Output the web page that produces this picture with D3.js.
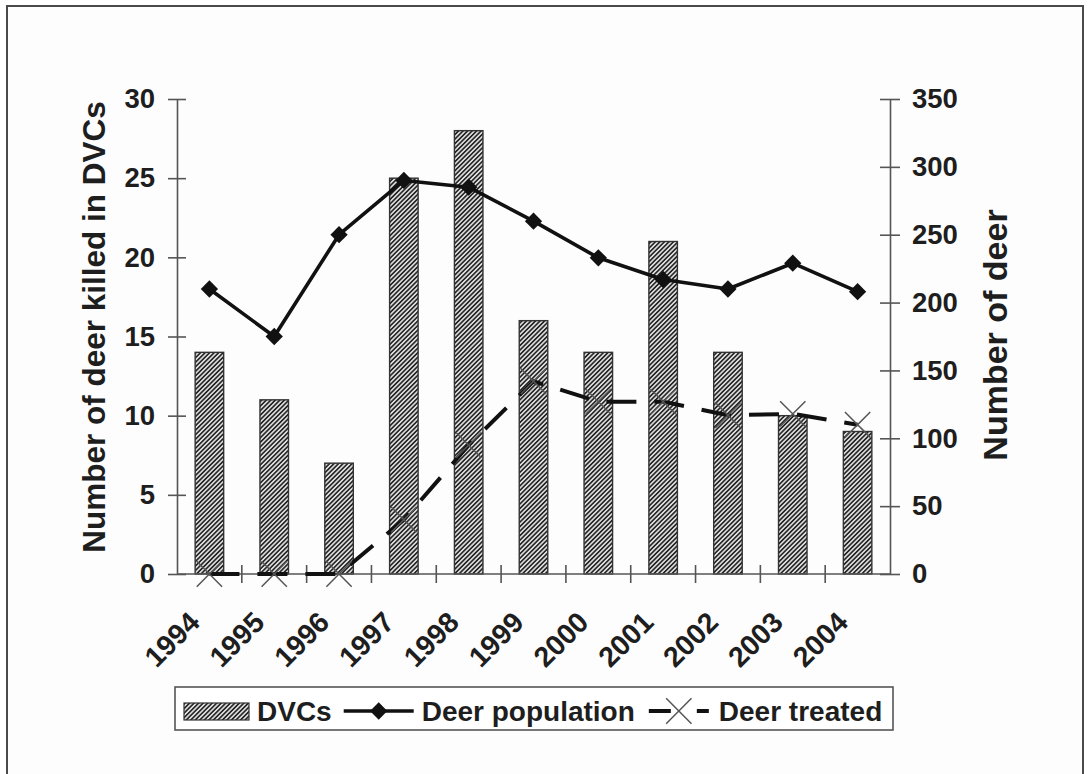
<!DOCTYPE html>
<html>
<head>
<meta charset="utf-8">
<script src="https://cdn.jsdelivr.net/npm/d3@7/dist/d3.min.js"></script>
<style>
  body { margin: 0; background: #fff; }
  text { font-family: "Liberation Sans", Arial, sans-serif; font-weight: bold; fill: #1e1e1e; }
</style>
</head>
<body>
<script>
// chart values
var years = ["1994", "1995", "1996", "1997", "1998", "1999", "2000", "2001", "2002", "2003", "2004"];
var dvcs = [14, 11, 7, 25, 28, 16, 14, 21, 14, 10, 9];
var deerPopulation = [210, 175, 250, 290, 285, 260, 233, 217, 210, 229, 208];
var deerTreated = [0, 0, 0, 40, 95, 142, 127, 127, 117, 118, 110];
var leftTicks = [0, 5, 10, 15, 20, 25, 30];
var rightTicks = [0, 50, 100, 150, 200, 250, 300, 350];
var seriesNames = ["DVCs", "Deer population", "Deer treated"];

var width = 1089, height = 774;
var plot = {left: 177, right: 890, top: 99, bottom: 574};

var svg = d3.select("body").append("svg")
    .attr("width", width)
    .attr("height", height);

// hatch fill for the bars
var defs = svg.append("defs");
var pat = defs.append("pattern")
    .attr("id", "hatch")
    .attr("patternUnits", "userSpaceOnUse")
    .attr("width", 3.2)
    .attr("height", 3.2)
    .attr("patternTransform", "rotate(45)");
pat.append("rect").attr("width", 3.2).attr("height", 3.2).attr("fill", "#dcdcdc");
pat.append("line").attr("x1", 0.8).attr("y1", 0).attr("x2", 0.8).attr("y2", 3.2)
    .attr("stroke", "#262626").attr("stroke-width", 1.6);

// outer frame
svg.append("rect")
    .attr("x", 7).attr("y", 6)
    .attr("width", 1076).attr("height", 790)
    .attr("fill", "#fdfdfd")
    .attr("stroke", "#4a4a4a")
    .attr("stroke-width", 2);

var x = d3.scaleBand().domain(years).range([plot.left, plot.right]);
var yLeft = d3.scaleLinear().domain([0, 30]).range([plot.bottom, plot.top]);
var yRight = d3.scaleLinear().domain([0, 350]).range([plot.bottom, plot.top]);
var barW = x.bandwidth() * 0.44;
var cx = function(d) { return x(d) + x.bandwidth() / 2; };

// bars
svg.append("g").selectAll("rect")
    .data(years)
    .enter().append("rect")
    .attr("x", function(d) { return cx(d) - barW / 2; })
    .attr("y", function(d, i) { return yLeft(dvcs[i]); })
    .attr("width", barW)
    .attr("height", function(d, i) { return plot.bottom - yLeft(dvcs[i]); })
    .attr("fill", "url(#hatch)")
    .attr("stroke", "#333")
    .attr("stroke-width", 1.4);

// left axis
var gl = svg.append("g")
    .attr("transform", "translate(" + plot.left + ",0)")
    .call(d3.axisLeft(yLeft).tickValues(leftTicks).tickSize(9).tickPadding(13).tickSizeOuter(0));
gl.selectAll(".tick line").attr("x1", 9);

// right axis
var gr = svg.append("g")
    .attr("transform", "translate(" + plot.right + ",0)")
    .call(d3.axisRight(yRight).tickValues(rightTicks).tickSize(10).tickPadding(12).tickSizeOuter(0));
gr.selectAll(".tick line").attr("x1", -10);

[gl, gr].forEach(function(g) {
    g.select(".domain").attr("stroke", "#555").attr("stroke-width", 1.6);
    g.selectAll(".tick line").attr("stroke", "#555").attr("stroke-width", 1.6);
    g.selectAll(".tick text")
        .attr("font-size", 27.5)
        .attr("font-family", "Liberation Sans, Arial, sans-serif")
        .attr("font-weight", "bold")
        .attr("fill", "#1e1e1e");
});

// x axis: line, ticks at category boundaries, rotated labels
var xa = svg.append("g");
xa.append("line")
    .attr("x1", plot.left).attr("x2", plot.right)
    .attr("y1", plot.bottom).attr("y2", plot.bottom)
    .attr("stroke", "#555").attr("stroke-width", 1.6);
xa.selectAll(".xtick")
    .data(years.slice(1))
    .enter().append("line")
    .attr("class", "xtick")
    .attr("x1", function(d) { return x(d); })
    .attr("x2", function(d) { return x(d); })
    .attr("y1", plot.bottom - 9)
    .attr("y2", plot.bottom + 9)
    .attr("stroke", "#555").attr("stroke-width", 1.6);
xa.selectAll(".xlabel")
    .data(years)
    .enter().append("text")
    .attr("class", "xlabel")
    .attr("text-anchor", "end")
    .attr("font-size", 28.5)
    .attr("transform", function(d) { return "translate(" + (cx(d) - 8) + "," + (plot.bottom + 50) + ") rotate(-45)"; })
    .text(function(d) { return d; });

// axis titles
svg.append("text")
    .attr("text-anchor", "middle")
    .attr("font-size", 31.5)
    .attr("transform", "translate(105,327) rotate(-90)")
    .text("Number of deer killed in DVCs");
svg.append("text")
    .attr("text-anchor", "middle")
    .attr("font-size", 34)
    .attr("transform", "translate(1007,335) rotate(-90)")
    .text("Number of deer");

// deer population line
var popLine = d3.line()
    .x(function(d, i) { return cx(years[i]); })
    .y(function(d) { return yRight(d); });
svg.append("path")
    .datum(deerPopulation)
    .attr("d", popLine)
    .attr("fill", "none")
    .attr("stroke", "#111")
    .attr("stroke-width", 3.6)
    .attr("stroke-linejoin", "round");

var diamond = d3.symbol().type(d3.symbolDiamond2).size(190);
svg.append("g").selectAll("path")
    .data(deerPopulation)
    .enter().append("path")
    .attr("d", diamond)
    .attr("transform", function(d, i) { return "translate(" + cx(years[i]) + "," + yRight(d) + ")"; })
    .attr("fill", "#111");

// deer treated line
svg.append("path")
    .datum(deerTreated)
    .attr("d", popLine)
    .attr("fill", "none")
    .attr("stroke", "#111")
    .attr("stroke-width", 4)
    .attr("stroke-dasharray", "30,18");

var cross = d3.symbol().type(d3.symbolX).size(420);
svg.append("g").selectAll("path")
    .data(deerTreated)
    .enter().append("path")
    .attr("d", cross)
    .attr("transform", function(d, i) { return "translate(" + cx(years[i]) + "," + yRight(d) + ")"; })
    .attr("fill", "none")
    .attr("stroke", "#555")
    .attr("stroke-width", 1.5);

// legend
var lg = svg.append("g");
lg.append("rect")
    .attr("x", 175).attr("y", 687)
    .attr("width", 718).attr("height", 43)
    .attr("fill", "#fff")
    .attr("stroke", "#555")
    .attr("stroke-width", 1.6);

var lx = 184, ly = 711, lfont = 28;
lg.append("rect")
    .attr("x", lx).attr("y", ly - 8)
    .attr("width", 65).attr("height", 17)
    .attr("fill", "url(#hatch)")
    .attr("stroke", "#333").attr("stroke-width", 1.2);
lx += 73;
var t1 = lg.append("text").attr("x", lx).attr("y", ly + 10).attr("font-size", lfont).text(seriesNames[0]);
lx += t1.node().getComputedTextLength() + 12;
lg.append("line")
    .attr("x1", lx).attr("x2", lx + 70).attr("y1", ly).attr("y2", ly)
    .attr("stroke", "#111").attr("stroke-width", 3.6);
lg.append("path")
    .attr("d", diamond)
    .attr("transform", "translate(" + (lx + 35) + "," + ly + ")")
    .attr("fill", "#111");
lx += 78;
var t2 = lg.append("text").attr("x", lx).attr("y", ly + 10).attr("font-size", lfont).text(seriesNames[1]);
lx += t2.node().getComputedTextLength() + 14;
lg.append("line")
    .attr("x1", lx).attr("x2", lx + 60).attr("y1", ly).attr("y2", ly)
    .attr("stroke", "#111").attr("stroke-width", 4)
    .attr("stroke-dasharray", "22,26");
lg.append("path")
    .attr("d", cross)
    .attr("transform", "translate(" + (lx + 30) + "," + ly + ")")
    .attr("fill", "none").attr("stroke", "#555").attr("stroke-width", 1.5);
lx += 70;
lg.append("text").attr("x", lx).attr("y", ly + 10).attr("font-size", lfont).text(seriesNames[2]);
</script>
</body>
</html>
